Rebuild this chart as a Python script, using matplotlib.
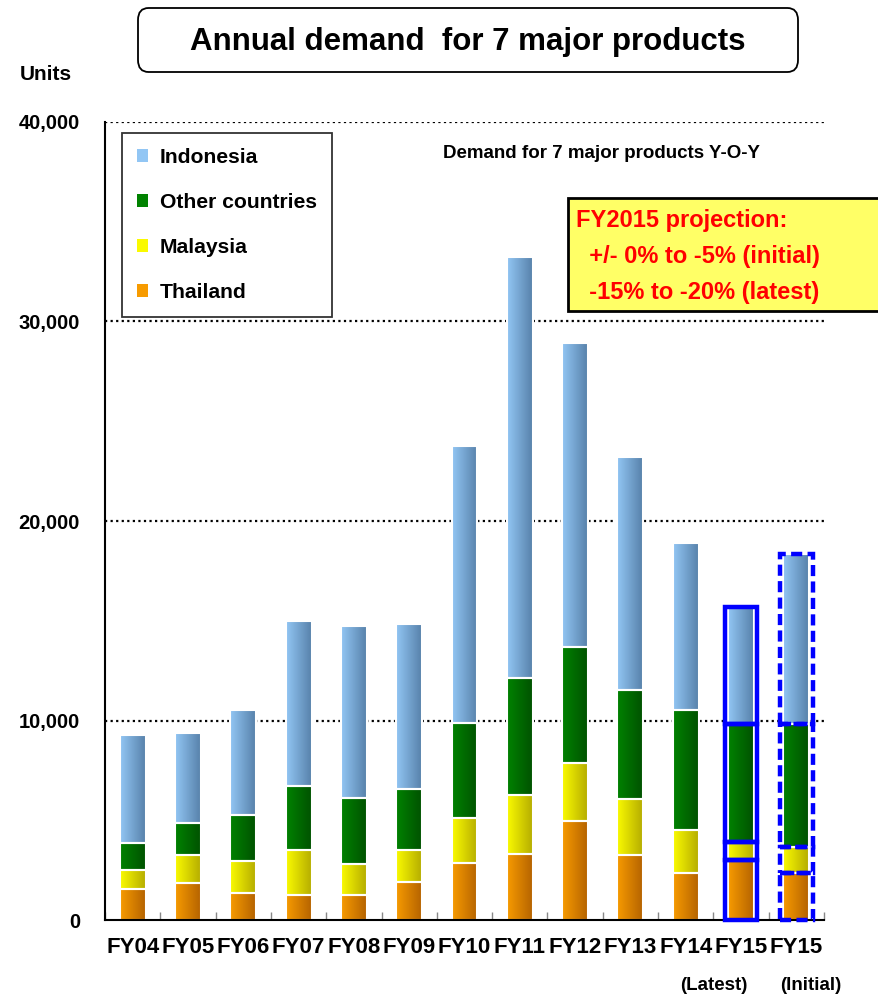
import numpy as np
import matplotlib
matplotlib.use("Agg")
import matplotlib.pyplot as plt
from matplotlib import font_manager
from matplotlib.colors import LinearSegmentedColormap
from matplotlib.patches import FancyBboxPatch, Rectangle, Patch

# ---------------- data ----------------
categories = ["FY04", "FY05", "FY06", "FY07", "FY08", "FY09", "FY10",
              "FY11", "FY12", "FY13", "FY14", "FY15", "FY15"]
sub_labels = ["", "", "", "", "", "", "", "", "", "", "", "(Latest)", "(Initial)"]
thailand = [1530, 1850, 1370, 1270, 1250, 1920, 2850, 3320, 4970, 3280, 2350, 3030, 2370]
malaysia = [990, 1430, 1580, 2250, 1550, 1570, 2270, 2950, 2920, 2800, 2170, 880, 1300]
other = [1360, 1570, 2300, 3200, 3330, 3100, 4730, 5850, 5780, 5430, 6030, 5920, 6130]
indonesia = [5370, 4530, 5280, 8270, 8600, 8270, 13900, 21130, 15230, 11680, 8330, 5870, 8530]
series_names = ["Thailand", "Malaysia", "Other countries", "Indonesia"]
y_ticks = [0, 10000, 20000, 30000, 40000]
y_ticklabels = ["0", "10,000", "20,000", "30,000", "40,000"]

# ---------------- fonts ----------------
avail = {f.name for f in font_manager.fontManager.ttflist}
FONT = "Liberation Sans Narrow" if "Liberation Sans Narrow" in avail else "Liberation Sans"
plt.rcParams["font.family"] = [FONT, "DejaVu Sans"]
plt.rcParams["font.weight"] = "bold"

colors = {
    "Thailand": ("#F79B00", "#B56300"),
    "Malaysia": ("#FAFA00", "#B5AD00"),
    "Other countries": ("#008200", "#005200"),
    "Indonesia": ("#92C6F4", "#5781AA"),
}

fig = plt.figure(figsize=(8.79, 10), dpi=100)
ax = fig.add_axes([105 / 879, 0.08, (824 - 105) / 879, 0.798])

x = np.arange(len(categories))
width = 0.47
data = [thailand, malaysia, other, indonesia]
bottom = np.zeros(len(categories))
for name, vals in zip(series_names, data):
    vals = np.array(vals, dtype=float)
    bc = ax.bar(x, vals, width, bottom=bottom, color=colors[name][0],
                edgecolor="white", linewidth=1.5, zorder=2)
    cmap = LinearSegmentedColormap.from_list(name, colors[name])
    grad = np.linspace(0, 1, 64).reshape(1, -1)
    for p in bc.patches:
        x0, y0 = p.get_x(), p.get_y()
        w, h = p.get_width(), p.get_height()
        im = ax.imshow(grad, extent=[x0, x0 + w, y0, y0 + h], cmap=cmap,
                       aspect="auto", origin="lower", zorder=2.1,
                       interpolation="bilinear")
        im.set_clip_path(p)
    # white separators on top
    ax.bar(x, vals, width, bottom=bottom, fill=False, edgecolor="white",
           linewidth=1.5, zorder=2.2)
    # blue outlines for FY15 bars
    for i, ls in ((11, "-"), (12, (0, (2.5, 1.2)))):
        ax.add_patch(Rectangle((x[i] - width / 2 - 0.06, bottom[i]), width + 0.12, vals[i],
                               fill=False, edgecolor="#0000FF", linewidth=3.2,
                               linestyle=ls, zorder=3, clip_on=False))
    bottom = bottom + vals

ax.set_xlim(-0.5, len(categories) - 0.5)
ax.set_ylim(0, 40000)

# grid
for yv in y_ticks[1:]:
    ax.axhline(yv, color="black", linestyle=(0, (1, 1.5)), linewidth=1.6, zorder=1)

for s in ("top", "right"):
    ax.spines[s].set_visible(False)
ax.spines["left"].set_linewidth(1.5)
ax.spines["bottom"].set_linewidth(1.5)

ax.set_yticks(y_ticks)
ax.set_yticklabels(y_ticklabels, fontsize=14.5, fontweight="bold")
ax.tick_params(axis="y", length=0, pad=18)
ax.set_xticks(x)
ax.set_xticklabels(categories, fontsize=16, fontweight="bold")
ax.tick_params(axis="x", length=0, pad=12)
ax.set_xticks(np.arange(len(categories) + 1) - 0.5, minor=True)
ax.tick_params(axis="x", which="minor", direction="in", length=6, color="#888888", width=1)

sub_pos = {11: 714, 12: 811}
for i, s in enumerate(sub_labels):
    if s:
        fig.text(sub_pos[i] / 879, 1 - 985 / 1000, s, ha="center", va="center",
                 fontsize=13.5, fontweight="bold")

# title box
fig.patches.append(FancyBboxPatch((138 / 879, 1 - 72 / 1000), (798 - 138) / 879, 64 / 1000,
                                  boxstyle="round,pad=0,rounding_size=0.012",
                                  transform=fig.transFigure, facecolor="white",
                                  edgecolor="black", linewidth=1.3))
fig.text(468 / 879, 1 - 42 / 1000, "Annual demand  for 7 major products",
         ha="center", va="center", fontsize=22.5, fontweight="bold")
fig.text(46 / 879, 1 - 74 / 1000, "Units", ha="center", va="center",
         fontsize=15, fontweight="bold")

# legend
handles = [Patch(facecolor=colors[n][0], edgecolor="none") for n in reversed(series_names)]
leg = ax.legend(handles, list(reversed(series_names)), loc="upper left",
                bbox_to_anchor=(122 / 879, 1 - 133 / 1000), bbox_transform=fig.transFigure,
                frameon=True, fancybox=False, edgecolor="black",
                prop={"weight": "bold", "size": 15.2}, handlelength=0.55, handleheight=0.55,
                handletextpad=0.55, labelspacing=1.24, borderpad=0.7, borderaxespad=0)
leg.get_frame().set_linewidth(1.3)

fig.text(443 / 879, 1 - 154 / 1000, "Demand for 7 major products Y-O-Y",
         ha="left", va="center", fontsize=13.5, fontweight="bold")

# projection box
fig.patches.append(Rectangle((568 / 879, 1 - 311 / 1000), 0.5, 113 / 1000,
                             transform=fig.transFigure, facecolor="#FFFF66",
                             edgecolor="black", linewidth=2))
proj_lines = ["FY2015 projection:", "  +/- 0% to -5% (initial)", "  -15% to -20% (latest)"]
for line, yy in zip(proj_lines, [220, 257, 292]):
    fig.text(576 / 879, 1 - yy / 1000, line, ha="left", va="center",
             fontsize=17, fontweight="bold", color="#FF0000")

fig.savefig("out.png", dpi=100)
